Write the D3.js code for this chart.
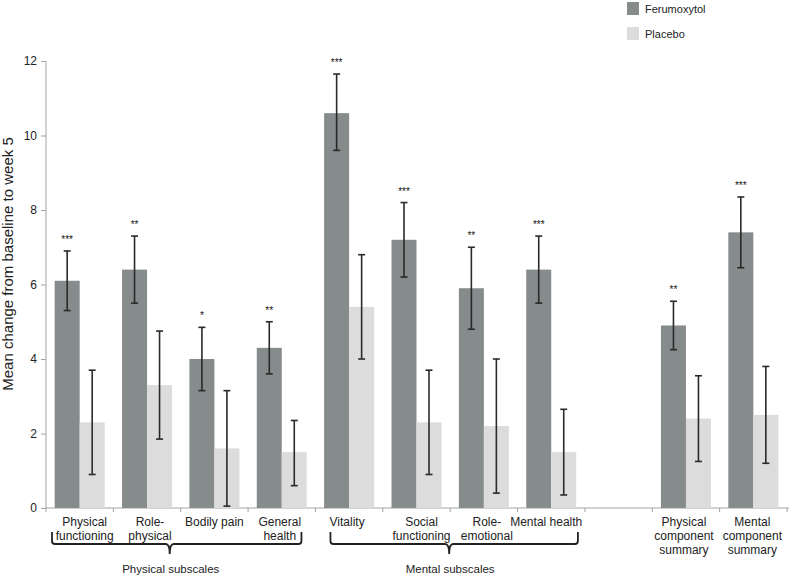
<!DOCTYPE html>
<html><head><meta charset="utf-8">
<script src="https://cdn.jsdelivr.net/npm/d3@7"></script>
<style>body{margin:0;background:#fff}text{font-family:"Liberation Sans",Arial,sans-serif}</style>
</head><body><svg id="c" width="790" height="579"></svg>
<script>
const categories = ["Physical functioning","Role-physical","Bodily pain","General health","Vitality","Social functioning","Role-emotional","Mental health","","Physical component summary","Mental component summary"];
const catLabels = [["Physical","functioning"],["Role-","physical"],["Bodily pain"],["General","health"],["Vitality"],["Social","functioning"],["Role-","emotional"],["Mental health"],[],["Physical","component","summary"],["Mental","component","summary"]];
const ferumoxytol = [6.1,6.4,4.0,4.3,10.6,7.2,5.9,6.4,null,4.9,7.4];
const ferLow  = [5.3,5.5,3.15,3.6,9.6,6.2,4.8,5.5,null,4.25,6.45];
const ferHigh = [6.9,7.3,4.85,5.0,11.65,8.2,7.0,7.3,null,5.55,8.35];
const placebo = [2.3,3.3,1.6,1.5,5.4,2.3,2.2,1.5,null,2.4,2.5];
const plaLow  = [0.9,1.85,0.05,0.6,4.0,0.9,0.4,0.35,null,1.25,1.2];
const plaHigh = [3.7,4.75,3.15,2.35,6.8,3.7,4.0,2.65,null,3.55,3.8];
const stars = ["***","**","*","**","***","***","**","***","","**","***"];
const yTicks = [0,2,4,6,8,10,12];
const groups = [{label:"Physical subscales",from:0,to:3},{label:"Mental subscales",from:4,to:7}];
const seriesNames = ["Ferumoxytol","Placebo"];
const colors = ["#868b8c","#dcdcdc"];

const svg = d3.select("#c");
const x0 = 46, x1 = 787, yBot = 508, yTop = 61;
const x = d3.scaleBand().domain(d3.range(categories.length)).range([x0,x1]).paddingInner(0).paddingOuter(0);
const y = d3.scaleLinear().domain([0,12]).range([yBot,yTop]);
const bw = 25;
// layout nudges for hand-placed labels / braces in the original
const labelNudge = [5,3,0,-2,-2,5,3,-5,0,-2,-1];
const braceAdj = [{l:6,r:-14,tip:-11},{l:15,r:-7,tip:-1}];

// y axis
const ya = svg.append("g").attr("transform",`translate(${x0},0)`).call(d3.axisLeft(y).tickValues(yTicks).tickSize(5).tickPadding(4));
ya.select(".domain").attr("stroke","#a3a3a3").attr("d",`M0,${yBot}V${yTop}`);
ya.selectAll(".tick line").attr("stroke","#a3a3a3");
ya.selectAll(".tick text").attr("font-size",12).attr("fill","#222").attr("font-family","Liberation Sans, Arial, sans-serif");

// x axis line and ticks
svg.append("line").attr("x1",x0).attr("x2",x1+2).attr("y1",yBot).attr("y2",yBot).attr("stroke","#a3a3a3");
const bounds = d3.range(categories.length+1).map(i=> i<categories.length ? x(i) : x1);
svg.selectAll(".xt").data(bounds).enter().append("line").attr("x1",d=>d).attr("x2",d=>d).attr("y1",yBot).attr("y2",yBot+4).attr("stroke","#a3a3a3");

const idx = d3.range(categories.length).filter(i=>ferumoxytol[i]!=null);
const cx = i => x(i)+x.bandwidth()/2;

// bars
svg.selectAll(".bf").data(idx).enter().append("rect")
 .attr("x",i=>cx(i)-bw).attr("width",bw).attr("y",i=>y(ferumoxytol[i])).attr("height",i=>yBot-y(ferumoxytol[i])).attr("fill",colors[0]);
svg.selectAll(".bp").data(idx).enter().append("rect")
 .attr("x",i=>cx(i)).attr("width",bw).attr("y",i=>y(placebo[i])).attr("height",i=>yBot-y(placebo[i])).attr("fill",colors[1]);

// error bars
function err(xc, lo, hi){
  const g = svg.append("g").attr("stroke","#2a2a2a").attr("stroke-width",1.6);
  g.append("line").attr("x1",xc).attr("x2",xc).attr("y1",y(lo)).attr("y2",y(hi));
  g.append("line").attr("x1",xc-3.5).attr("x2",xc+3.5).attr("y1",y(lo)).attr("y2",y(lo));
  g.append("line").attr("x1",xc-3.5).attr("x2",xc+3.5).attr("y1",y(hi)).attr("y2",y(hi));
}
idx.forEach(i=>{ err(cx(i)-bw/2, ferLow[i], ferHigh[i]); err(cx(i)+bw/2, plaLow[i], plaHigh[i]); });

// stars
svg.selectAll(".st").data(idx).enter().append("text")
 .attr("x",i=>cx(i)-bw/2).attr("y",i=>y(ferHigh[i])-8).attr("text-anchor","middle").attr("font-size",10).attr("fill","#111").text(i=>stars[i]);

// category labels
idx.forEach(i=>{
  catLabels[i].forEach((t,k)=>{
    svg.append("text").attr("x",cx(i)+labelNudge[i]).attr("y",526+k*14).attr("text-anchor","middle").attr("font-size",12).attr("fill","#222").text(t);
  });
});

// braces
groups.forEach((g,gi)=>{
  const a = braceAdj[gi];
  const l = x(g.from)+a.l, r = x(g.to+1)+a.r, m = x(Math.ceil((g.from+g.to)/2))+a.tip;
  const top = 532, hb = 544, tip = 554;
  const p = `M${l},${top} L${l},${hb-3} Q${l},${hb} ${l+3},${hb} L${m-4},${hb} Q${m},${hb} ${m},${tip} Q${m},${hb} ${m+4},${hb} L${r-3},${hb} Q${r},${hb} ${r},${hb-3} L${r},${top}`;
  svg.append("path").attr("d",p).attr("fill","none").attr("stroke","#222").attr("stroke-width",1.8);
  svg.append("text").attr("x",m+1).attr("y",573).attr("text-anchor","middle").attr("font-size",11.5).attr("fill","#222").text(g.label);
});

// y label
svg.append("text").attr("transform","translate(13,264) rotate(-90)").attr("text-anchor","middle").attr("font-size",15).attr("fill","#222").text("Mean change from baseline to week 5");

// legend
seriesNames.forEach((s,k)=>{
  svg.append("rect").attr("x",627).attr("y",2+k*25).attr("width",12).attr("height",13).attr("fill",colors[k]);
  svg.append("text").attr("x",645).attr("y",13+k*25).attr("font-size",11).attr("fill","#222").text(s);
});
</script></body></html>
